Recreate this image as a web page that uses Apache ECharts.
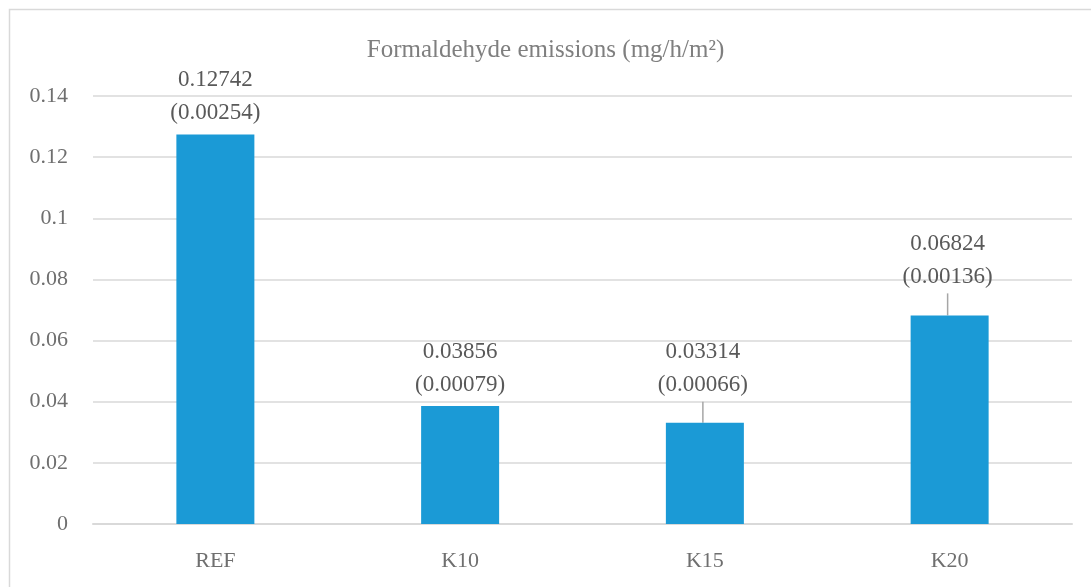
<!DOCTYPE html>
<html>
<head>
<meta charset="utf-8">
<script src="https://cdn.jsdelivr.net/npm/echarts@6/dist/echarts.min.js"></script>
<style>
html,body{margin:0;padding:0;background:#fff;}
#chart{width:1091px;height:587px;}
</style>
</head>
<body>
<div id="chart"></div>
<script>
var categories = ['REF', 'K10', 'K15', 'K20'];
var emissions = [0.12742, 0.03856, 0.03314, 0.06824];
var deviations = ['0.00254', '0.00079', '0.00066', '0.00136'];
var labelShiftY = [0, 0, -16, -17];
var labelShiftX = [0, 0, -2, -2];
var titleText = 'Formaldehyde emissions (mg/h/m\u00B2)';

var FONT = 'Liberation Serif';
var chart = echarts.init(document.getElementById('chart'), null, {renderer: 'canvas'});

var data = emissions.map(function (v, i) {
  var item = {value: v};
  if (labelShiftY[i] !== 0) {
    item.labelLine = {show: true};
  }
  return item;
});

chart.setOption({
  animation: false,
  backgroundColor: '#ffffff',
  graphic: [{
    type: 'rect',
    shape: {x: 9.5, y: 9.5, width: 1200, height: 700},
    style: {fill: 'none', stroke: '#d9d9d9', lineWidth: 1.5},
    silent: true,
    z: -1
  }],
  title: {
    text: titleText,
    left: 'center',
    top: 33,
    textStyle: {fontFamily: FONT, fontSize: 25, fontWeight: 'normal', color: '#7f7f7f'}
  },
  grid: {left: 93, right: 19, top: 96, bottom: 63, containLabel: false},
  xAxis: {
    type: 'category',
    data: categories,
    axisLine: {show: true, lineStyle: {color: '#d9d9d9', width: 2}},
    axisTick: {show: false},
    axisLabel: {fontFamily: FONT, fontSize: 22, color: '#6f6f6f', margin: 26}
  },
  yAxis: {
    type: 'value',
    min: 0,
    max: 0.14,
    interval: 0.02,
    axisLine: {show: false},
    axisTick: {show: false},
    axisLabel: {fontFamily: FONT, fontSize: 22, color: '#6f6f6f', margin: 25},
    splitLine: {lineStyle: {color: '#d9d9d9', width: 1.5}}
  },
  series: [{
    type: 'bar',
    data: data,
    barWidth: 78,
    itemStyle: {color: '#1b9ad6'},
    label: {
      show: true,
      position: 'top',
      distance: 5,
      fontFamily: FONT,
      fontSize: 23,
      lineHeight: 33,
      color: '#595959',
      formatter: function (p) {
        return p.value.toFixed(5) + '\n(' + deviations[p.dataIndex] + ')';
      }
    },
    labelLine: {show: false, lineStyle: {color: '#a6a6a6', width: 1.5}},
    labelLayout: function (p) {
      return {dx: labelShiftX[p.dataIndex], dy: labelShiftY[p.dataIndex]};
    }
  }]
});
</script>
</body>
</html>
